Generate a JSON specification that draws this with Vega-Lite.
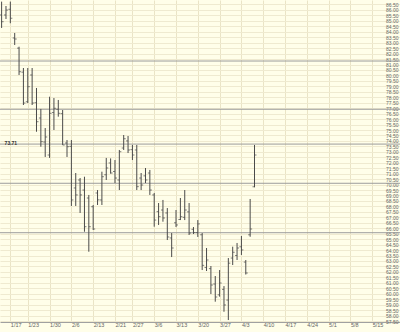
{
  "$schema": "https://vega.github.io/schema/vega-lite/v6.json",
  "width": 400,
  "height": 322,
  "autosize": {"type": "none"},
  "padding": {"left": 0, "top": 0, "right": 0, "bottom": 10},
  "background": "#FFFEE9",
  "config": {"view": {"stroke": null}, "font": "Liberation Sans"},
  "datasets": {
    "bars": [
      {"d": "1/12", "o": 85.54, "h": 86.76, "l": 84.35, "c": 84.92},
      {"d": "1/13", "o": 85.54, "h": 86.36, "l": 85.17, "c": 85.99},
      {"d": "1/17", "o": 86.06, "h": 86.76, "l": 84.78, "c": 85.24},
      {"d": "1/18", "o": 83.43, "h": 83.89, "l": 82.79, "c": 83.34},
      {"d": "1/19", "o": 82.5, "h": 82.63, "l": 80.04, "c": 80.34},
      {"d": "1/20", "o": 80.3, "h": 80.68, "l": 77.29, "c": 77.47},
      {"d": "1/23", "o": 77.59, "h": 80.68, "l": 77.47, "c": 78.97},
      {"d": "1/24", "o": 80.04, "h": 80.68, "l": 77.29, "c": 77.47},
      {"d": "1/25", "o": 77.5, "h": 78.85, "l": 74.84, "c": 75.76},
      {"d": "1/26", "o": 76.1, "h": 76.93, "l": 73.47, "c": 73.93},
      {"d": "1/27", "o": 73.9, "h": 75.18, "l": 72.53, "c": 74.36},
      {"d": "1/30", "o": 72.71, "h": 78.05, "l": 72.44, "c": 76.53},
      {"d": "1/31", "o": 76.6, "h": 77.93, "l": 75.0, "c": 76.99},
      {"d": "2/1", "o": 76.9, "h": 77.75, "l": 76.22, "c": 76.53},
      {"d": "2/2", "o": 76.5, "h": 76.83, "l": 73.63, "c": 73.63},
      {"d": "2/3", "o": 73.81, "h": 74.08, "l": 72.53, "c": 73.47},
      {"d": "2/6", "o": 73.5, "h": 74.08, "l": 68.04, "c": 68.59},
      {"d": "2/7", "o": 69.69, "h": 71.06, "l": 68.04, "c": 69.05},
      {"d": "2/8", "o": 70.42, "h": 70.6, "l": 67.4, "c": 69.05},
      {"d": "2/9", "o": 69.5, "h": 70.72, "l": 65.68, "c": 66.14},
      {"d": "2/10", "o": 68.77, "h": 69.05, "l": 63.85, "c": 66.14},
      {"d": "2/13", "o": 67.97, "h": 68.13, "l": 65.84, "c": 65.93},
      {"d": "2/14", "o": 69.23, "h": 69.5, "l": 68.13, "c": 68.6},
      {"d": "2/15", "o": 68.59, "h": 71.18, "l": 68.13, "c": 70.72},
      {"d": "2/16", "o": 70.9, "h": 72.44, "l": 70.42, "c": 71.52},
      {"d": "2/17", "o": 71.98, "h": 72.4, "l": 71.0, "c": 71.06},
      {"d": "2/21", "o": 71.2, "h": 72.25, "l": 70.14, "c": 70.6},
      {"d": "2/22", "o": 70.42, "h": 73.17, "l": 69.5, "c": 73.01},
      {"d": "2/23", "o": 73.35, "h": 74.54, "l": 73.17, "c": 74.2},
      {"d": "2/24", "o": 74.0, "h": 74.45, "l": 72.89, "c": 73.17},
      {"d": "2/27", "o": 73.2, "h": 73.63, "l": 72.25, "c": 72.71},
      {"d": "2/28", "o": 73.17, "h": 73.63, "l": 69.5, "c": 69.81},
      {"d": "3/1", "o": 70.6, "h": 71.06, "l": 69.5, "c": 69.96},
      {"d": "3/2", "o": 70.8, "h": 71.52, "l": 70.14, "c": 70.42},
      {"d": "3/3", "o": 71.06, "h": 71.34, "l": 69.05, "c": 69.5},
      {"d": "3/6", "o": 69.05, "h": 69.23, "l": 66.14, "c": 66.75},
      {"d": "3/7", "o": 67.52, "h": 68.31, "l": 66.3, "c": 67.06},
      {"d": "3/8", "o": 67.67, "h": 68.59, "l": 66.6, "c": 66.94},
      {"d": "3/9", "o": 67.4, "h": 67.85, "l": 64.92, "c": 65.2},
      {"d": "3/10", "o": 65.11, "h": 65.56, "l": 63.36, "c": 64.19},
      {"d": "3/13", "o": 66.5, "h": 67.67, "l": 66.11, "c": 66.3},
      {"d": "3/14", "o": 66.8, "h": 68.77, "l": 66.75, "c": 67.06},
      {"d": "3/15", "o": 67.0, "h": 69.5, "l": 66.75, "c": 67.67},
      {"d": "3/16", "o": 67.5, "h": 68.31, "l": 65.38, "c": 65.56},
      {"d": "3/17", "o": 65.9, "h": 66.11, "l": 65.47, "c": 65.6},
      {"d": "3/20", "o": 65.6, "h": 66.75, "l": 65.2, "c": 66.4},
      {"d": "3/21", "o": 65.4, "h": 65.56, "l": 62.17, "c": 62.6},
      {"d": "3/22", "o": 62.4, "h": 64.19, "l": 62.08, "c": 63.09},
      {"d": "3/23", "o": 62.3, "h": 62.54, "l": 59.97, "c": 60.8},
      {"d": "3/24", "o": 60.89, "h": 61.62, "l": 59.27, "c": 59.7},
      {"d": "3/27", "o": 59.9, "h": 62.17, "l": 59.73, "c": 60.98},
      {"d": "3/28", "o": 60.4, "h": 60.7, "l": 58.35, "c": 58.97},
      {"d": "3/29", "o": 59.42, "h": 63.27, "l": 57.59, "c": 62.8},
      {"d": "3/30", "o": 63.27, "h": 64.31, "l": 62.63, "c": 63.8},
      {"d": "3/31", "o": 63.5, "h": 64.65, "l": 63.09, "c": 64.19},
      {"d": "4/3", "o": 64.3, "h": 65.29, "l": 63.55, "c": 64.01},
      {"d": "4/4", "o": 62.9, "h": 63.09, "l": 61.76, "c": 61.9},
      {"d": "4/5", "o": 65.4, "h": 68.68, "l": 65.22, "c": 65.93},
      {"d": "4/6", "o": 69.8, "h": 73.63, "l": 69.75, "c": 72.71}
    ],
    "levels": [
      {"v": 81.32, "label": ""},
      {"v": 76.9, "label": ""},
      {"v": 73.71, "label": "73.71"},
      {"v": 70.12, "label": ""},
      {"v": 65.59, "label": ""}
    ]
  },
  "layer": [
    {
      "data": {"name": "levels"},
      "mark": {"type": "rule", "color": "#9c9c9c", "strokeWidth": 1},
      "encoding": {
        "y": {"field": "v", "type": "quantitative", "title": null,
              "scale": {"domain": [57.41, 86.91], "nice": false, "zero": false}}
      }
    },
    {
      "data": {"name": "levels"},
      "mark": {"type": "text", "align": "left", "baseline": "middle", "dx": 3, "dy": -1, "fontSize": 5, "fontWeight": "bold", "color": "#333"},
      "encoding": {
        "x": {"datum": "1/12", "type": "ordinal", "title": null,
              "scale": {"type": "point", "padding": 0.37, "domain": ["1/12","1/13","1/17","1/18","1/19","1/20","1/23","1/24","1/25","1/26","1/27","1/30","1/31","2/1","2/2","2/3","2/6","2/7","2/8","2/9","2/10","2/13","2/14","2/15","2/16","2/17","2/21","2/22","2/23","2/24","2/27","2/28","3/1","3/2","3/3","3/6","3/7","3/8","3/9","3/10","3/13","3/14","3/15","3/16","3/17","3/20","3/21","3/22","3/23","3/24","3/27","3/28","3/29","3/30","3/31","4/3","4/4","4/5","4/6","4/7","4/10","4/11","4/12","4/13","4/14","4/17","4/18","4/19","4/20","4/21","4/24","4/25","4/26","4/27","4/28","5/1","5/2","5/3","5/4","5/5","5/8","5/9","5/10","5/11","5/12","5/15","5/16","5/17","5/18","5/19","5/22","5/23"]}},
        "y": {"field": "v", "type": "quantitative", "title": null,
              "scale": {"domain": [57.41, 86.91], "nice": false, "zero": false}},
        "text": {"field": "label"}
      }
    },
    {
      "data": {"name": "bars"},
      "mark": {"type": "rule", "color": "#4a4a4a", "strokeWidth": 1},
      "encoding": {
        "x": {"field": "d", "type": "ordinal", "title": null,
              "scale": {"type": "point", "padding": 0.37, "domain": ["1/12","1/13","1/17","1/18","1/19","1/20","1/23","1/24","1/25","1/26","1/27","1/30","1/31","2/1","2/2","2/3","2/6","2/7","2/8","2/9","2/10","2/13","2/14","2/15","2/16","2/17","2/21","2/22","2/23","2/24","2/27","2/28","3/1","3/2","3/3","3/6","3/7","3/8","3/9","3/10","3/13","3/14","3/15","3/16","3/17","3/20","3/21","3/22","3/23","3/24","3/27","3/28","3/29","3/30","3/31","4/3","4/4","4/5","4/6","4/7","4/10","4/11","4/12","4/13","4/14","4/17","4/18","4/19","4/20","4/21","4/24","4/25","4/26","4/27","4/28","5/1","5/2","5/3","5/4","5/5","5/8","5/9","5/10","5/11","5/12","5/15","5/16","5/17","5/18","5/19","5/22","5/23"]},
              "axis": {"orient": "bottom", "values": ["1/17","1/23","1/30","2/6","2/13","2/21","2/27","3/6","3/13","3/20","3/27","4/3","4/10","4/17","4/24","5/1","5/8","5/15"],
                       "grid": true, "gridColor": "#EAE4C6", "gridWidth": 1, "ticks": false, "tickSize": 0,
                       "domain": true, "domainColor": "#a0a0a0", "labelAlign": "left", "labelAngle": 0,
                       "labelFontSize": 5.5, "labelColor": "#666", "labelPadding": 2, "labelOverlap": false}},
        "y": {"field": "l", "type": "quantitative", "title": null,
              "scale": {"domain": [57.41, 86.91], "nice": false, "zero": false},
              "axis": {"orient": "right", "tickCount": 60, "format": ".2f", "grid": true, "gridColor": "#EFEAD0", "gridWidth": 1,
                       "ticks": false, "tickSize": 0, "domain": false, "labelAlign": "right", "labelPadding": -2,
                       "labelFontSize": 5, "labelColor": "#666", "labelOverlap": false, "labelBaseline": "middle"}},
        "y2": {"field": "h"}
      }
    },
    {
      "data": {"name": "bars"},
      "mark": {"type": "tick", "color": "#4a4a4a", "size": 2, "thickness": 1, "xOffset": -1},
      "encoding": {
        "x": {"field": "d", "type": "ordinal", "title": null,
              "scale": {"type": "point", "padding": 0.37, "domain": ["1/12","1/13","1/17","1/18","1/19","1/20","1/23","1/24","1/25","1/26","1/27","1/30","1/31","2/1","2/2","2/3","2/6","2/7","2/8","2/9","2/10","2/13","2/14","2/15","2/16","2/17","2/21","2/22","2/23","2/24","2/27","2/28","3/1","3/2","3/3","3/6","3/7","3/8","3/9","3/10","3/13","3/14","3/15","3/16","3/17","3/20","3/21","3/22","3/23","3/24","3/27","3/28","3/29","3/30","3/31","4/3","4/4","4/5","4/6","4/7","4/10","4/11","4/12","4/13","4/14","4/17","4/18","4/19","4/20","4/21","4/24","4/25","4/26","4/27","4/28","5/1","5/2","5/3","5/4","5/5","5/8","5/9","5/10","5/11","5/12","5/15","5/16","5/17","5/18","5/19","5/22","5/23"]}},
        "y": {"field": "o", "type": "quantitative", "title": null,
              "scale": {"domain": [57.41, 86.91], "nice": false, "zero": false}}
      }
    },
    {
      "data": {"name": "bars"},
      "mark": {"type": "tick", "color": "#4a4a4a", "size": 2, "thickness": 1, "xOffset": 1},
      "encoding": {
        "x": {"field": "d", "type": "ordinal", "title": null,
              "scale": {"type": "point", "padding": 0.37, "domain": ["1/12","1/13","1/17","1/18","1/19","1/20","1/23","1/24","1/25","1/26","1/27","1/30","1/31","2/1","2/2","2/3","2/6","2/7","2/8","2/9","2/10","2/13","2/14","2/15","2/16","2/17","2/21","2/22","2/23","2/24","2/27","2/28","3/1","3/2","3/3","3/6","3/7","3/8","3/9","3/10","3/13","3/14","3/15","3/16","3/17","3/20","3/21","3/22","3/23","3/24","3/27","3/28","3/29","3/30","3/31","4/3","4/4","4/5","4/6","4/7","4/10","4/11","4/12","4/13","4/14","4/17","4/18","4/19","4/20","4/21","4/24","4/25","4/26","4/27","4/28","5/1","5/2","5/3","5/4","5/5","5/8","5/9","5/10","5/11","5/12","5/15","5/16","5/17","5/18","5/19","5/22","5/23"]}},
        "y": {"field": "c", "type": "quantitative", "title": null,
              "scale": {"domain": [57.41, 86.91], "nice": false, "zero": false}}
      }
    }
  ]
}
